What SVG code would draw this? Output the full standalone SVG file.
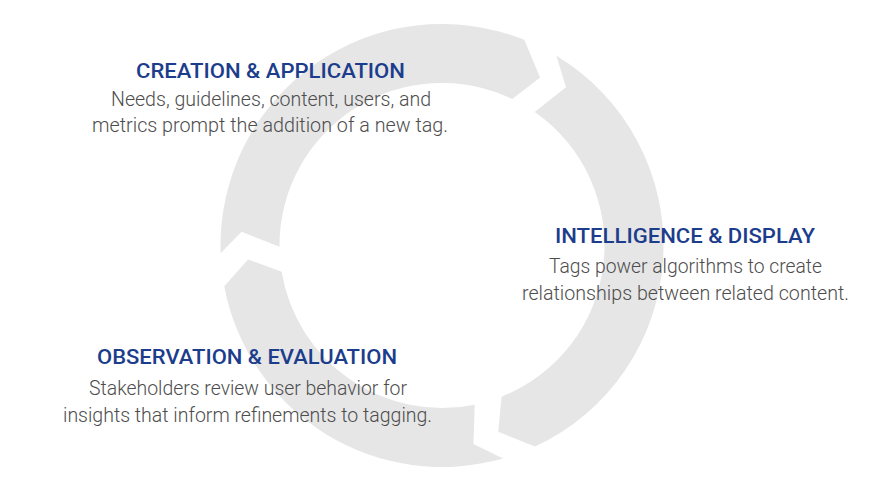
<svg xmlns="http://www.w3.org/2000/svg" width="888" height="487" viewBox="0 0 888 487">
<style>
.arc{fill:#e6e6e6;stroke:none}
.title{font-family:Roboto,"Liberation Sans",Arial,sans-serif;font-weight:500;font-size:20.5px;fill:#1c3d8c;text-anchor:middle}
.body{font-family:Roboto,"Liberation Sans",Arial,sans-serif;font-weight:300;font-size:20px;fill:#4d4d4d;text-anchor:middle}
</style>
<rect width="888" height="487" fill="#ffffff"/>
<g id="connectors">
<path class="arc" d="M220.64,253.23 A221.5,221.5 0 0 1 524.26,39.84 L540.13,77.57 L512.21,98.95 A162.5,162.5 0 0 0 279.50,246.63 L241.47,231.83 Z"/>
<path class="arc" d="M556.41,55.84 A221.5,221.5 0 0 1 534.91,446.57 L498.22,431.70 L501.56,396.69 A162.5,162.5 0 0 0 534.74,112.06 L565.98,87.29 Z"/>
<path class="arc" d="M503.05,458.42 A221.5,221.5 0 0 1 224.28,286.24 L248.00,259.41 L281.64,271.76 A162.5,162.5 0 0 0 474.68,404.68 L473.44,444.03 Z"/>
</g>
<g id="creation">
<text class="title" x="270.5" y="78" textLength="269" lengthAdjust="spacingAndGlyphs">CREATION &amp; APPLICATION</text>
<text class="body" x="271" y="106" textLength="320" lengthAdjust="spacingAndGlyphs">Needs, guidelines, content, users, and</text>
<text class="body" x="270" y="132" textLength="356" lengthAdjust="spacingAndGlyphs">metrics prompt the addition of a new tag.</text>
</g>
<g id="intelligence">
<text class="title" x="685" y="243" textLength="260" lengthAdjust="spacingAndGlyphs">INTELLIGENCE &amp; DISPLAY</text>
<text class="body" x="685.5" y="273" textLength="273" lengthAdjust="spacingAndGlyphs">Tags power algorithms to create</text>
<text class="body" x="685.5" y="300" textLength="327" lengthAdjust="spacingAndGlyphs">relationships between related content.</text>
</g>
<g id="observation">
<text class="title" x="247" y="364" textLength="300" lengthAdjust="spacingAndGlyphs">OBSERVATION &amp; EVALUATION</text>
<text class="body" x="248" y="395" textLength="318" lengthAdjust="spacingAndGlyphs">Stakeholders review user behavior for</text>
<text class="body" x="247.5" y="422" textLength="369" lengthAdjust="spacingAndGlyphs">insights that inform refinements to tagging.</text>
</g>
</svg>
